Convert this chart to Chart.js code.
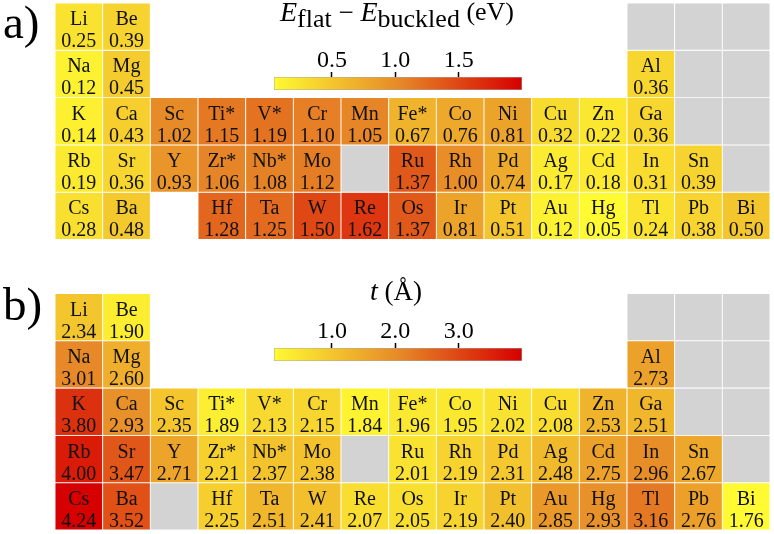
<!DOCTYPE html>
<html>
<head>
<meta charset="utf-8">
<script src="https://cdn.jsdelivr.net/npm/chart.js@4/dist/chart.umd.min.js"></script>
<style>
  html, body { margin: 0; padding: 0; background: #ffffff; }
  #wrap { position: relative; width: 774px; height: 534px; }
  canvas { position: absolute; }
</style>
</head>
<body>
<div id="wrap">
  <canvas id="main" width="774" height="534" style="left:0;top:0"></canvas>
  <canvas id="cbTop" width="272" height="55" style="left:262px;top:40px"></canvas>
  <canvas id="cbBot" width="272" height="55" style="left:262px;top:311px"></canvas>
</div>
<script>
// ---------------- data ----------------
const columns = ['1','2','3','4','5','6','7','8','9','10','11','12','13','14','15'];

const symbols = [
  ['Li','Be','','','','','','','','','','','B','C','N'],
  ['Na','Mg','','','','','','','','','','','Al','Si','P'],
  ['K','Ca','Sc','Ti*','V*','Cr','Mn','Fe*','Co','Ni','Cu','Zn','Ga','Ge','As'],
  ['Rb','Sr','Y','Zr*','Nb*','Mo','Tc','Ru','Rh','Pd','Ag','Cd','In','Sn','Sb'],
  ['Cs','Ba','La','Hf','Ta','W','Re','Os','Ir','Pt','Au','Hg','Tl','Pb','Bi']
];

// a) E_flat - E_buckled (eV); null = no data (grey)
const energyRow1 = [0.25, 0.39, null, null, null, null, null, null, null, null, null, null, null, null, null];
const energyRow2 = [0.12, 0.45, null, null, null, null, null, null, null, null, null, null, 0.36, null, null];
const energyRow3 = [0.14, 0.43, 1.02, 1.15, 1.19, 1.10, 1.05, 0.67, 0.76, 0.81, 0.32, 0.22, 0.36, null, null];
const energyRow4 = [0.19, 0.36, 0.93, 1.06, 1.08, 1.12, null, 1.37, 1.00, 0.74, 0.17, 0.18, 0.31, 0.39, null];
const energyRow5 = [0.28, 0.48, null, 1.28, 1.25, 1.50, 1.62, 1.37, 0.81, 0.51, 0.12, 0.05, 0.24, 0.38, 0.50];
const energyHidden = ['La'];

// b) buckling t (Å)
const thickRow1 = [2.34, 1.90, null, null, null, null, null, null, null, null, null, null, null, null, null];
const thickRow2 = [3.01, 2.60, null, null, null, null, null, null, null, null, null, null, 2.73, null, null];
const thickRow3 = [3.80, 2.93, 2.35, 1.89, 2.13, 2.15, 1.84, 1.96, 1.95, 2.02, 2.08, 2.53, 2.51, null, null];
const thickRow4 = [4.00, 3.47, 2.71, 2.21, 2.37, 2.38, null, 2.01, 2.19, 2.31, 2.48, 2.75, 2.96, 2.67, null];
const thickRow5 = [4.24, 3.52, null, 2.25, 2.51, 2.41, 2.07, 2.05, 2.19, 2.40, 2.85, 2.93, 3.16, 2.76, 1.76];
const thickHidden = [];

// colour bars
const energyTicks = [0.5, 1.0, 1.5];
const thickTicks = [1.0, 2.0, 3.0];
const energyBarRange = [0.043, 2.0];
const thickBarRange = [0.085, 4.0];
const energyNorm = [0.05, 2.0];
const thickNorm = [1.76, 4.24];

// ---------------- styling / helpers ----------------
const cmap = [[255, 250, 50], [231, 138, 40], [214, 0, 0]];
function cmapColor(t) {
  t = Math.max(0, Math.min(1, t));
  const s = t * (cmap.length - 1);
  const i = Math.min(cmap.length - 2, Math.floor(s));
  const f = s - i;
  const c = cmap[i].map((v, k) => Math.round(v + (cmap[i + 1][k] - v) * f));
  return `rgb(${c[0]},${c[1]},${c[2]})`;
}
const GREY = '#d3d3d3';
const SERIF = '"Liberation Serif", "DejaVu Serif", serif';
const GAP = 1.14;             // vertical gap between the two panels, in rows
const panels = [
  { rows: [energyRow1, energyRow2, energyRow3, energyRow4, energyRow5], hidden: energyHidden, norm: energyNorm, offset: 0 },
  { rows: [thickRow1, thickRow2, thickRow3, thickRow4, thickRow5], hidden: thickHidden, norm: thickNorm, offset: 5 + GAP }
];

const datasets = [];
const labelItems = [];
panels.forEach(p => {
  p.rows.forEach((vals, r) => {
    const y0 = p.offset + r;
    const data = [], colors = [];
    vals.forEach((v, c) => {
      const sym = symbols[r][c];
      if (!sym || p.hidden.includes(sym)) { data.push(null); colors.push('rgba(0,0,0,0)'); return; }
      data.push([y0, y0 + 1]);
      if (v === null) { colors.push(GREY); }
      else {
        colors.push(cmapColor((v - p.norm[0]) / (p.norm[1] - p.norm[0])));
        labelItems.push({ col: c, y: y0 + 0.5, sym: sym, val: v.toFixed(2) });
      }
    });
    datasets.push({
      data: data, backgroundColor: colors, borderColor: '#ffffff', borderWidth: 0.8,
      borderSkipped: false, grouped: false, barPercentage: 1, categoryPercentage: 1
    });
  });
});

const textPlugin = {
  id: 'cellText',
  afterDatasetsDraw(chart) {
    const ctx = chart.ctx, xs = chart.scales.x, ys = chart.scales.y;
    ctx.save();
    ctx.fillStyle = '#111111';
    ctx.textAlign = 'center';
    ctx.textBaseline = 'alphabetic';
    ctx.font = '20px ' + SERIF;
    labelItems.forEach(it => {
      const cx = xs.getPixelForValue(it.col);
      const cy = ys.getPixelForValue(it.y);
      ctx.fillText(it.sym, cx, cy - 1.5);
      ctx.fillText(it.val, cx, cy + 20.5);
    });
    ctx.restore();
  },
  afterDraw(chart) {
    const ctx = chart.ctx;
    ctx.save();
    ctx.fillStyle = '#000000';
    ctx.textBaseline = 'alphabetic';
    ctx.textAlign = 'left';
    ctx.font = '47px ' + SERIF;
    ctx.fillText('a)', 3, 38);
    ctx.fillText('b)', 3, 320);
    function drawPieces(pieces, cx, base) {
      let total = 0;
      pieces.forEach(p => { ctx.font = p.f; p.w = ctx.measureText(p.t).width; total += p.w; });
      let x = cx - total / 2;
      pieces.forEach(p => { ctx.font = p.f; ctx.fillText(p.t, x, base + (p.dy || 0)); x += p.w; });
    }
    drawPieces([
      { t: 'E', f: 'italic 28px ' + SERIF },
      { t: 'flat', f: '26px ' + SERIF, dy: 6 },
      { t: ' \u2212 ', f: '27px ' + SERIF },
      { t: 'E', f: 'italic 28px ' + SERIF },
      { t: 'buckled', f: '26px ' + SERIF, dy: 6 },
      { t: ' (eV)', f: '26px ' + SERIF, dy: -1 }
    ], 397, 21);
    drawPieces([
      { t: 't', f: 'italic 28px ' + SERIF },
      { t: ' (\u00C5)', f: '27px ' + SERIF }
    ], 396, 300);
    ctx.restore();
  }
};

new Chart(document.getElementById('main'), {
  type: 'bar',
  data: { labels: columns, datasets: datasets },
  options: {
    responsive: false, animation: false,
    layout: { padding: { left: 55, right: 4, top: 3, bottom: 4 } },
    plugins: { legend: { display: false }, tooltip: { enabled: false } },
    scales: {
      x: { type: 'category', display: false, offset: true },
      y: { type: 'linear', display: false, min: 0, max: 10 + GAP, reverse: true }
    }
  },
  plugins: [textPlugin]
});

function colorBar(id, range, ticks) {
  new Chart(document.getElementById(id), {
    type: 'bar',
    data: { labels: [''], datasets: [{
      data: [range],
      backgroundColor: (c) => {
        const ca = c.chart.chartArea;
        if (!ca) return '#ffffff';
        const g = c.chart.ctx.createLinearGradient(ca.left, 0, ca.right, 0);
        cmap.forEach((col, i) => g.addColorStop(i / (cmap.length - 1), `rgb(${col[0]},${col[1]},${col[2]})`));
        return g;
      },
      borderColor: 'rgba(130,130,130,0.7)', borderWidth: 0.8, borderSkipped: false,
      barPercentage: 1, categoryPercentage: 1
    }] },
    options: {
      indexAxis: 'y', responsive: false, animation: false,
      layout: { padding: { left: 12, right: 12, top: 0, bottom: 5 } },
      plugins: { legend: { display: false }, tooltip: { enabled: false } },
      scales: {
        y: { display: false },
        x: {
          type: 'linear', position: 'top', min: range[0], max: range[1],
          afterBuildTicks: s => { s.ticks = ticks.map(v => ({ value: v })); },
          afterFit: s => { s.height = 37; },
          border: { display: false },
          grid: { drawOnChartArea: false, drawTicks: true, tickLength: 5, tickWidth: 1.5, tickColor: '#000000' },
          ticks: { padding: -3, color: '#000000', font: { family: SERIF, size: 24 }, maxRotation: 0,
                   callback: v => Number(v).toFixed(1) }
        }
      }
    }
  });
}
colorBar('cbTop', energyBarRange, energyTicks);
colorBar('cbBot', thickBarRange, thickTicks);
</script>
</body>
</html>
